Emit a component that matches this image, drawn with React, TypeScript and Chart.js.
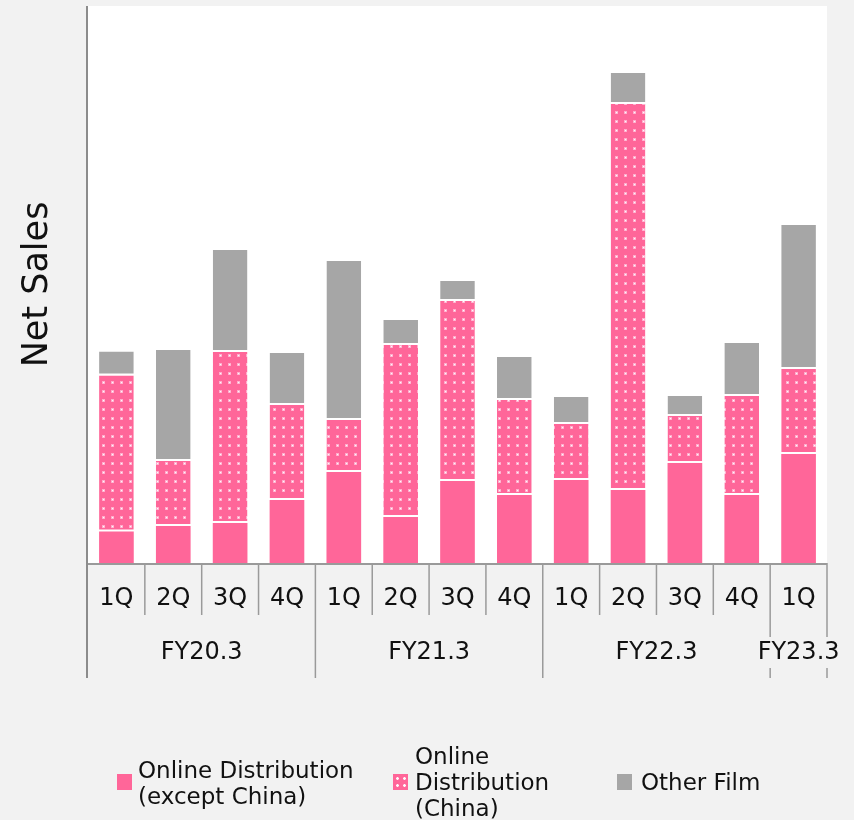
import React, { useEffect, useRef } from 'react';
import { Chart, registerables } from 'chart.js';

Chart.register(...registerables);

// ---- data ----
const quarters = ['1Q', '2Q', '3Q', '4Q', '1Q', '2Q', '3Q', '4Q', '1Q', '2Q', '3Q', '4Q', '1Q'];
const fiscalYears = ['FY20.3', 'FY20.3', 'FY20.3', 'FY20.3', 'FY21.3', 'FY21.3', 'FY21.3', 'FY21.3', 'FY22.3', 'FY22.3', 'FY22.3', 'FY22.3', 'FY23.3'];
const onlineExChina = [31.5, 37, 40, 63, 91, 46, 82, 68, 83, 73, 100, 68, 109];
const onlineChina = [156, 65, 171, 95, 52, 172, 180, 95, 56, 386, 47, 99, 85];
const otherFilm = [24, 111, 102, 52, 159, 25, 20, 43, 27, 31, 20, 53, 144];
const seriesNames = ['Online Distribution (except China)', 'Online Distribution (China)', 'Other Film'];
const legendLines = [['Online Distribution', '(except China)'], ['Online', 'Distribution', '(China)'], ['Other Film']];
const yTitle = 'Net Sales';
const yMax = 557;

const PINK = '#ff6699';
const GRAY = '#a6a6a6';
const BG = '#f2f2f2';
const FONT = '"DejaVu Sans", Verdana, sans-serif';

function makePattern(): CanvasPattern | string {
  const c = document.createElement('canvas');
  c.width = 9;
  c.height = 9;
  const g = c.getContext('2d');
  if (!g) return PINK;
  g.fillStyle = PINK;
  g.fillRect(0, 0, 9, 9);
  g.fillStyle = 'rgba(255,190,215,0.8)';
  g.fillRect(3, 3, 3, 3);
  g.fillStyle = 'rgba(255,245,250,1)';
  g.fillRect(4, 4, 1.2, 1.2);
  const p = g.createPattern(c, 'repeat');
  return p || PINK;
}

const axisPlugin = {
  id: 'customAxis',
  beforeDraw(chart: any) {
    const { ctx, chartArea: a } = chart;
    ctx.save();
    ctx.fillStyle = '#ffffff';
    ctx.fillRect(a.left, a.top, a.right - a.left, a.bottom - a.top);
    ctx.restore();
  },
  afterDraw(chart: any) {
    const { ctx, chartArea: a, scales } = chart;
    const xs = scales.x;
    const n = quarters.length;
    const bounds: number[] = [];
    for (let i = 0; i <= n; i++) {
      if (i === 0) bounds.push(a.left);
      else if (i === n) bounds.push(a.right);
      else bounds.push((xs.getPixelForValue(i - 1) + xs.getPixelForValue(i)) / 2);
    }
    ctx.save();
    // y axis line
    ctx.fillStyle = '#8c8c8c';
    ctx.fillRect(a.left - 2, a.top, 2, a.bottom - a.top + 115);
    // baseline
    ctx.fillStyle = '#9a9a9a';
    ctx.fillRect(a.left, a.bottom, a.right - a.left, 2);
    // separators
    ctx.strokeStyle = '#9a9a9a';
    ctx.lineWidth = 1.5;
    for (let i = 1; i <= n; i++) {
      const isYear = i === n || fiscalYears[i] !== fiscalYears[i - 1];
      const len = isYear ? 115 : 52;
      ctx.beginPath();
      ctx.moveTo(bounds[i], a.bottom);
      ctx.lineTo(bounds[i], a.bottom + len);
      ctx.stroke();
    }
    // quarter labels
    ctx.font = '24px ' + FONT;
    ctx.textAlign = 'center';
    ctx.textBaseline = 'middle';
    ctx.fillStyle = '#111';
    for (let i = 0; i < n; i++) {
      ctx.fillText(quarters[i], (bounds[i] + bounds[i + 1]) / 2, a.bottom + 36);
    }
    // year labels
    let start = 0;
    for (let i = 1; i <= n; i++) {
      if (i === n || fiscalYears[i] !== fiscalYears[start]) {
        const cx = (bounds[start] + bounds[i]) / 2;
        const cy = a.bottom + 90;
        const label = fiscalYears[start];
        const w = ctx.measureText(label).width;
        ctx.fillStyle = BG;
        ctx.fillRect(cx - w / 2 - 2, cy - 16, w + 4, 31);
        ctx.fillStyle = '#111';
        ctx.fillText(label, cx, cy);
        start = i;
      }
    }
    ctx.restore();
  },
};

const legendLayout = [
  { swatchLeft: 117, textLeft: 138, centerY: 783 },
  { swatchLeft: 393, textLeft: 415, centerY: 782 },
  { swatchLeft: 617, textLeft: 641, centerY: 782 },
];

export default function App() {
  const ref = useRef<HTMLCanvasElement | null>(null);

  useEffect(() => {
    document.body.style.margin = '0';
    document.body.style.background = BG;
    if (!ref.current) return;
    const pattern = makePattern();
    const common = {
      barPercentage: 0.61,
      categoryPercentage: 1.0,
      borderColor: '#ffffff',
      borderSkipped: false as any,
    };
    const gapBorder = { top: 0, right: 0, bottom: 2, left: 0 };
    const chart = new Chart(ref.current, {
      type: 'bar',
      data: {
        labels: quarters,
        datasets: [
          { label: seriesNames[0], data: onlineExChina, backgroundColor: PINK, borderWidth: 0, ...common },
          { label: seriesNames[1], data: onlineChina, backgroundColor: pattern as any, borderWidth: gapBorder, ...common },
          { label: seriesNames[2], data: otherFilm, backgroundColor: GRAY, borderWidth: gapBorder, ...common },
        ],
      },
      options: {
        responsive: false,
        animation: false,
        devicePixelRatio: 1,
        layout: { padding: { left: 0, right: 27, top: 6, bottom: 257 } },
        plugins: { legend: { display: false }, tooltip: { enabled: false } },
        scales: {
          x: { stacked: true, display: false, offset: true },
          y: {
            stacked: true,
            min: 0,
            max: yMax,
            ticks: { display: false },
            grid: { display: false, drawTicks: false },
            border: { display: false },
            title: {
              display: true,
              text: yTitle,
              color: '#111',
              font: { family: FONT, size: 35, weight: 'normal' as any },
              padding: { top: 16.5, bottom: 29.5 },
            },
          },
        },
      },
      plugins: [axisPlugin],
    });
    return () => chart.destroy();
  }, []);

  return (
    <div style={{ position: 'relative', width: 854, height: 820, background: BG, overflow: 'hidden' }}>
      <canvas ref={ref} width={854} height={820} style={{ position: 'absolute', left: 0, top: 0, width: 854, height: 820 }} />
      {legendLayout.map((l, i) => {
        const lines = legendLines[i];
        const swatchStyle: React.CSSProperties = {
          position: 'absolute',
          left: l.swatchLeft,
          top: 774,
          width: 15,
          height: 16,
          backgroundColor: i === 2 ? GRAY : PINK,
        };
        if (i === 1) {
          swatchStyle.backgroundImage = 'radial-gradient(circle, rgba(255,255,255,0.95) 1px, transparent 1.7px)';
          swatchStyle.backgroundSize = '7px 7px';
          swatchStyle.backgroundPosition = '1px 1px';
        }
        return (
          <React.Fragment key={i}>
            <div style={swatchStyle} />
            <div
              style={{
                position: 'absolute',
                left: l.textLeft,
                top: l.centerY - lines.length * 13,
                font: '23px ' + FONT,
                lineHeight: '26px',
                color: '#111',
                whiteSpace: 'nowrap',
              }}
            >
              {lines.map((t, j) => (
                <div key={j}>{t}</div>
              ))}
            </div>
          </React.Fragment>
        );
      })}
    </div>
  );
}
